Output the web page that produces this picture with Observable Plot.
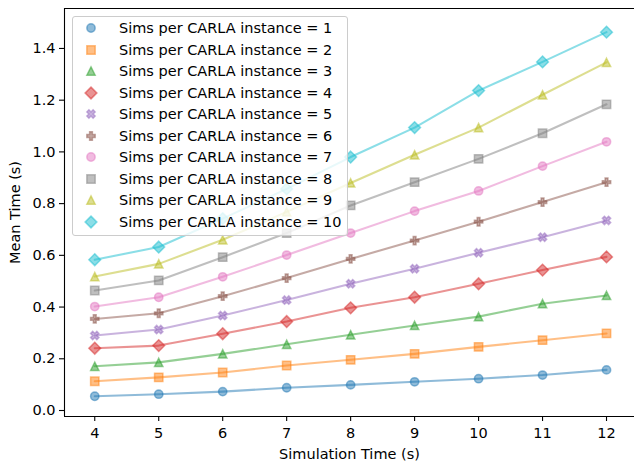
<!DOCTYPE html>
<html><head><meta charset="utf-8">
<script src="https://cdn.jsdelivr.net/npm/d3@7"></script>
<script src="https://cdn.jsdelivr.net/npm/@observablehq/plot@0.6"></script>
<style>
html,body{margin:0;padding:0;background:#fff;overflow:hidden}
#wrap{position:relative;width:634px;height:464px;font-family:"DejaVu Sans",sans-serif}
#legend{position:absolute;left:72px;top:16px;width:276px;height:220px;background:rgba(255,255,255,0.8);border:1px solid #cccccc;border-radius:3px;box-sizing:border-box}
.row{position:absolute;left:0;height:22px;line-height:22px;font-size:14.5px;color:#000;white-space:nowrap}
.row svg{position:absolute;left:11px;top:4px}
.row span{position:absolute;left:46px;top:0}
</style></head>
<body><div id="wrap"><div id="legend"></div></div>
<script>
// ---- data ----
const xValues = [4, 5, 6, 7, 8, 9, 10, 11, 12];
const s1  = [0.055, 0.063, 0.073, 0.088, 0.099, 0.111, 0.123, 0.137, 0.157];
const s2  = [0.113, 0.128, 0.147, 0.174, 0.196, 0.219, 0.246, 0.272, 0.298];
const s3  = [0.171, 0.186, 0.219, 0.256, 0.293, 0.329, 0.363, 0.413, 0.445];
const s4  = [0.241, 0.251, 0.297, 0.344, 0.397, 0.438, 0.490, 0.543, 0.594];
const s5  = [0.290, 0.313, 0.367, 0.427, 0.490, 0.548, 0.610, 0.670, 0.735];
const s6  = [0.354, 0.376, 0.442, 0.512, 0.586, 0.657, 0.730, 0.806, 0.883];
const s7  = [0.402, 0.438, 0.517, 0.601, 0.686, 0.771, 0.849, 0.945, 1.039];
const s8  = [0.464, 0.503, 0.593, 0.686, 0.793, 0.883, 0.973, 1.072, 1.184];
const s9  = [0.518, 0.567, 0.660, 0.768, 0.880, 0.989, 1.094, 1.221, 1.346];
const s10 = [0.583, 0.632, 0.742, 0.857, 0.980, 1.094, 1.237, 1.348, 1.463];
const seriesValues = [s1, s2, s3, s4, s5, s6, s7, s8, s9, s10];
const seriesLabels = [1, 2, 3, 4, 5, 6, 7, 8, 9, 10].map(n => `Sims per CARLA instance = ${n}`);
const xTicks = [4, 5, 6, 7, 8, 9, 10, 11, 12];
const yTicks = [0.0, 0.2, 0.4, 0.6, 0.8, 1.0, 1.2, 1.4];

// ---- style ----
const colors = ["#1f77b4","#ff7f0e","#2ca02c","#d62728","#9467bd","#8c564b","#e377c2","#7f7f7f","#bcbd22","#17becf"];
const ms = 8.33;
function poly(pts, k) {
  return {draw(ctx) {
    ctx.moveTo(pts[0][0]*k, pts[0][1]*k);
    for (let i = 1; i < pts.length; i++) ctx.lineTo(pts[i][0]*k, pts[i][1]*k);
    ctx.closePath();
  }};
}
const symCircle = {draw(ctx) { const r = ms/2; ctx.moveTo(r, 0); ctx.arc(0, 0, r, 0, 2*Math.PI); ctx.closePath(); }};
const symSquare = poly([[-1,-1],[1,-1],[1,1],[-1,1]], ms/2);
const symTriangle = poly([[0,-1],[1,1],[-1,1]], ms/2);
const symDiamond = poly([[0,-1],[1,0],[0,1],[-1,0]], ms*Math.SQRT2/2);
const symX = poly([[-1,-2],[0,-1],[1,-2],[2,-1],[1,0],[2,1],[1,2],[0,1],[-1,2],[-2,1],[-1,0],[-2,-1]], ms/4);
const symPlus = poly([[-1,-3],[1,-3],[1,-1],[3,-1],[3,1],[1,1],[1,3],[-1,3],[-1,1],[-3,1],[-3,-1],[-1,-1]], ms/6);
const symbols = [symCircle, symSquare, symTriangle, symDiamond, symX, symPlus, symCircle, symSquare, symTriangle, symDiamond];

const xDomain = [3.527, 12.4375];
const yDomain = [-0.0232, 1.5545];

const marks = [];
seriesValues.forEach((vals, i) => {
  marks.push(Plot.dot(xValues.map((x, j) => ({x, y: vals[j]})), {
    x: "x", y: "y", symbol: symbols[i], r: 4,
    fill: colors[i], fillOpacity: 0.5, stroke: colors[i], strokeOpacity: 0.5, strokeWidth: 1.5
  }));
});
seriesValues.forEach((vals, i) => {
  marks.push(Plot.line(xValues.map((x, j) => ({x, y: vals[j]})), {
    x: "x", y: "y", stroke: colors[i], strokeOpacity: 0.5, strokeWidth: 2.08
  }));
});

const chart = Plot.plot({
  width: 634, height: 464,
  marginLeft: 64, marginRight: 0, marginTop: 8, marginBottom: 48,
  style: {fontFamily: "DejaVu Sans, sans-serif", fontSize: "14.5px", color: "#000", background: "#fff"},
  x: {domain: xDomain},
  y: {domain: yDomain},
  marks: [
    ...marks,
    Plot.ruleX([xDomain[0]], {stroke: "#000", strokeWidth: 1.1}),
    Plot.ruleY([yDomain[0], yDomain[1]], {stroke: "#000", strokeWidth: 1.1}),
    Plot.axisX({ticks: xTicks, tickFormat: d => String(d), tickSize: 5, tickPadding: 6, strokeWidth: 1.1,
      label: "Simulation Time (s)", labelAnchor: "center", labelOffset: 42, labelArrow: "none"}),
    Plot.axisY({ticks: yTicks, tickFormat: d3.format(".1f"), tickSize: 5, tickPadding: 4, strokeWidth: 1.1,
      label: "Mean Time (s)", labelAnchor: "center", labelOffset: 55, labelArrow: "none"})
  ]
});
document.getElementById("wrap").prepend(chart);

// ---- legend ----
const legend = document.getElementById("legend");
seriesLabels.forEach((lab, i) => {
  const row = document.createElement("div");
  row.className = "row";
  row.style.top = (12.3 - 1 - 11 + 21.5 * i) + "px";
  const p = d3.path();
  symbols[i].draw(p, 0);
  row.innerHTML = `<svg width="14" height="14" viewBox="-7 -7 14 14"><path d="${p.toString()}" fill="${colors[i]}" fill-opacity="0.5" stroke="${colors[i]}" stroke-opacity="0.5" stroke-width="1.5"/></svg><span>${lab}</span>`;
  legend.appendChild(row);
});
</script>
</body></html>
